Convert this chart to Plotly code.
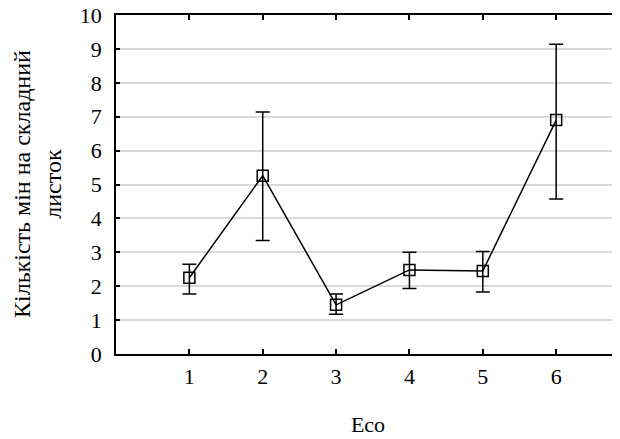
import plotly.graph_objects as go

eco = [1, 2, 3, 4, 5, 6]
means = [2.25, 5.26, 1.45, 2.48, 2.45, 6.90]
upper = [2.65, 7.14, 1.77, 3.00, 3.02, 9.14]
lower = [1.77, 3.35, 1.17, 1.93, 1.83, 4.57]
y_title = "Кількість мін на складний<br>листок"
x_title = "Eco"

err_plus = [u - m for u, m in zip(upper, means)]
err_minus = [m - l for m, l in zip(means, lower)]

FONT = "Liberation Serif, Times New Roman, serif"

fig = go.Figure()
fig.add_trace(go.Scatter(
    x=eco, y=means, mode="lines+markers",
    line=dict(color="black", width=1.5),
    marker=dict(symbol="square-open", size=11, color="black", line=dict(width=1.5)),
    error_y=dict(type="data", symmetric=False, array=err_plus, arrayminus=err_minus,
                 color="black", thickness=1.5, width=7),
    showlegend=False,
))

# page body has an 8px margin; figure is sized/offset to compensate
fig.update_layout(
    width=612, height=431,
    margin=dict(l=108, r=0, t=7, b=85, autoexpand=False),
    paper_bgcolor="white", plot_bgcolor="white",
    font=dict(family=FONT, size=22, color="black"),
)
fig.update_xaxes(
    range=[0, 6.87], tickvals=eco, ticktext=[str(v) for v in eco],
    showline=True, linecolor="black", linewidth=1.5, mirror="ticks",
    ticks="inside", ticklen=5, tickcolor="black", tickwidth=1.5,
    showgrid=False, zeroline=False, automargin=False,
    title=dict(text=x_title, font=dict(family=FONT, size=22), standoff=28),
    ticklabelstandoff=2,
)
fig.update_yaxes(
    range=[0, 10], dtick=1,
    showline=True, linecolor="black", linewidth=1.5, mirror=False,
    ticks="inside", ticklen=4, tickcolor="black", tickwidth=1.5,
    showgrid=True, gridcolor="#d9d9d9", gridwidth=1.5, zeroline=False,
    automargin=False, ticklabelstandoff=8, ticklabeloverflow="allow",
)
fig.add_annotation(
    text=y_title, textangle=-90, xref="paper", yref="paper",
    x=-78.5 / 504, y=0.5, xanchor="center", yanchor="middle",
    showarrow=False, font=dict(family=FONT, size=24, color="black"),
)

fig.write_html("out.html")
